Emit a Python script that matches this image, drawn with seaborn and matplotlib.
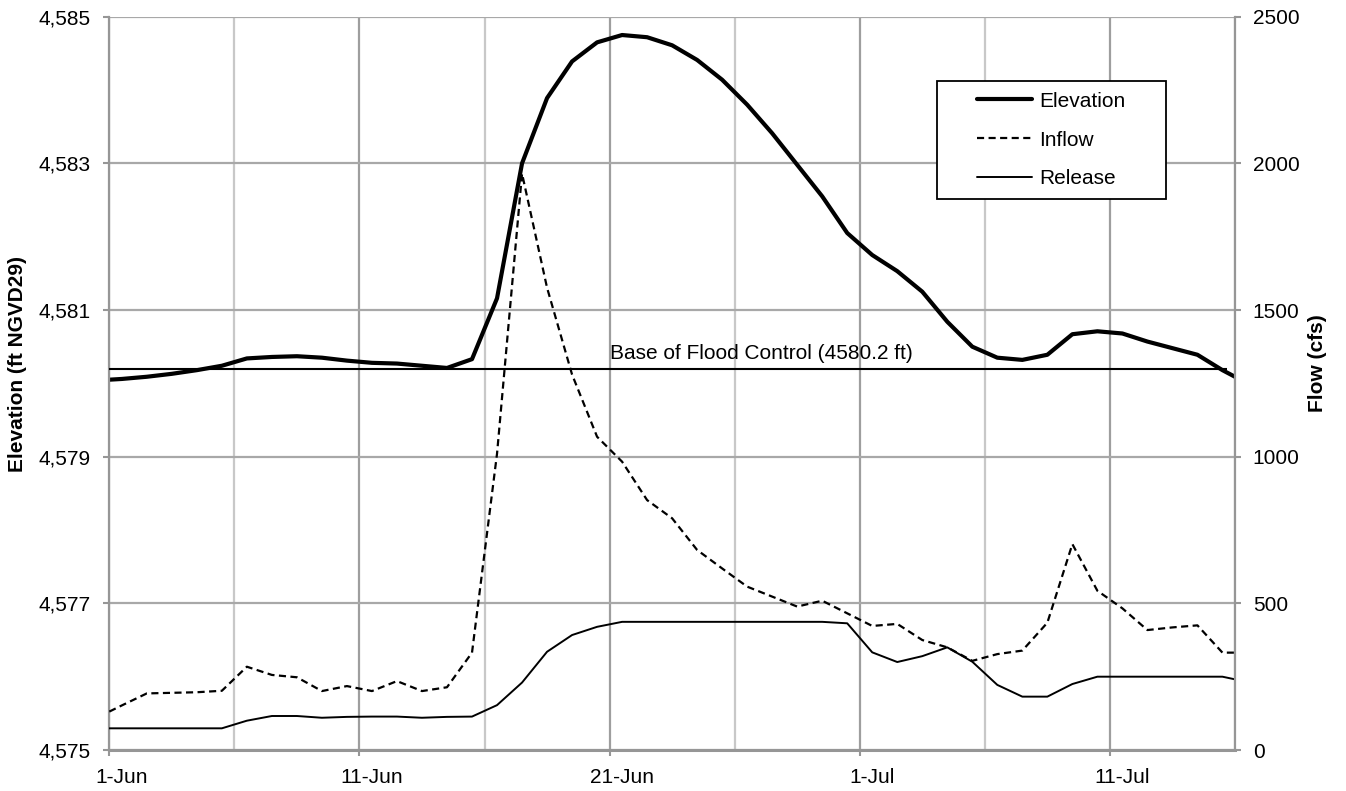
import numpy as np
import pandas as pd
import matplotlib
matplotlib.use("Agg")
import matplotlib.pyplot as plt
from matplotlib.patches import Rectangle
from matplotlib.ticker import MultipleLocator
import seaborn as sns

# Days since 1-Jun: daily values sit at mid-day, plus the record's two edges
day = np.concatenate([[0.0], np.arange(0.5, 45.0, 1.0), [45.0]])

# Reservoir elevation (ft NGVD29)
elevation = [4580.05, 4580.06, 4580.09, 4580.13, 4580.18, 4580.24, 4580.34, 4580.36,
             4580.37, 4580.35, 4580.31, 4580.28, 4580.27, 4580.24, 4580.21, 4580.33,
             4581.16, 4583.00, 4583.89, 4584.39, 4584.65, 4584.75, 4584.72, 4584.61,
             4584.41, 4584.14, 4583.80, 4583.41, 4582.98, 4582.55, 4582.05, 4581.75,
             4581.53, 4581.25, 4580.84, 4580.50, 4580.35, 4580.32, 4580.39, 4580.67,
             4580.71, 4580.68, 4580.57, 4580.48, 4580.39, 4580.18, 4580.09]

# Inflow (cfs)
inflow = [131, 152, 193, 195, 197, 202, 284, 256, 248, 201, 218, 201, 235, 201, 214, 332,
          1010, 1965, 1576, 1280, 1068, 983, 852, 790, 682, 619, 557, 523, 489, 509, 466,
          423, 430, 375, 350, 304, 327, 339, 434, 702, 543, 483, 409, 418, 425, 332, 332]

# Release (cfs)
release = [74, 74, 74, 74, 74, 74, 100, 116, 116, 110, 113, 114, 114, 110, 113, 114,
           153, 230, 335, 392, 420, 437, 437, 437, 437, 437, 437, 437, 437, 437, 432,
           333, 300, 320, 350, 301, 222, 182, 182, 225, 250, 250, 250, 250, 250, 250, 241]

flood_base = 4580.2
flood_end = 44.7
flood_label = "Base of Flood Control (4580.2 ft)"
flood_label_day = 20

date_ticks = [0, 10, 20, 30, 40]
date_labels = ["1-Jun", "11-Jun", "21-Jun", "1-Jul", "11-Jul"]
elev_ticks = [4575, 4577, 4579, 4581, 4583, 4585]
elev_labels = ["4,575", "4,577", "4,579", "4,581", "4,583", "4,585"]
flow_ticks = [0, 500, 1000, 1500, 2000, 2500]
flow_labels = ["0", "500", "1000", "1500", "2000", "2500"]

sns.set_style("white")
plt.rcParams["font.family"] = ["Liberation Sans", "DejaVu Sans"]
plt.rcParams["font.size"] = 15
plt.rcParams["text.color"] = "black"
plt.rcParams["axes.labelcolor"] = "black"
plt.rcParams["xtick.color"] = "black"
plt.rcParams["ytick.color"] = "black"

AXIS_GREY = "#969696"

df = pd.DataFrame({"day": day, "Elevation": elevation,
                   "Inflow": inflow, "Release": release})

fig = plt.figure(figsize=(13.46, 7.91), dpi=100)
ax = fig.add_axes([0.0812, 0.0518, 0.8363, 0.9271])
ax2 = ax.twinx()

sns.lineplot(data=df, x="day", y="Elevation", ax=ax, color="black",
             linewidth=3.0, sort=False, label="Elevation")
sns.lineplot(data=df, x="day", y="Inflow", ax=ax2, color="black",
             linewidth=1.6, linestyle=(0, (3.2, 2.0)), sort=False, label="Inflow")
sns.lineplot(data=df, x="day", y="Release", ax=ax2, color="black",
             linewidth=1.4, sort=False, label="Release")
for a in (ax, ax2):
    if a.get_legend() is not None:
        a.get_legend().remove()

# Flood-control reference level
ax.hlines(flood_base, day[0], flood_end, color="black", linewidth=1.5, zorder=3)
ax.annotate(flood_label, xy=(flood_label_day, flood_base), xytext=(0, 4),
            textcoords="offset points", ha="left", va="bottom", fontsize=15)

# Limits and ticks
ax.set_xlim(0, 45)
ax.set_ylim(elev_ticks[0], elev_ticks[-1])
ax2.set_ylim(flow_ticks[0], flow_ticks[-1])

ax.set_xticks(date_ticks, labels=[""] * len(date_ticks))
ax.xaxis.set_minor_locator(MultipleLocator(5))
ax.set_yticks(elev_ticks, labels=elev_labels)
ax2.set_yticks(flow_ticks, labels=flow_labels)

ax.tick_params(axis="x", which="major", direction="out", length=4.3, width=1.5,
               color=AXIS_GREY, bottom=True)
ax.tick_params(axis="x", which="minor", length=0)
ax.tick_params(axis="y", direction="out", length=4.3, width=1.5, color=AXIS_GREY,
               labelcolor="black", pad=9.5, labelsize=15, left=True)
ax2.tick_params(axis="y", direction="out", length=4.3, width=1.5, color=AXIS_GREY,
                labelcolor="black", pad=8.6, labelsize=15, right=True)

# Date labels centred on the day rather than on the tick
sec = ax.secondary_xaxis("bottom")
sec.set_xticks([t + 0.5 for t in date_ticks], labels=date_labels)
sec.tick_params(length=0, pad=13, labelsize=15, labelcolor="black")
sec.spines["bottom"].set_visible(False)

# Grid
ax.grid(which="major", axis="x", color="#9e9e9e", linewidth=1.6)
ax.grid(which="minor", axis="x", color="#c8c8c8", linewidth=1.6)
ax.grid(which="major", axis="y", color="#a8a8a8", linewidth=1.6)
ax.set_axisbelow(True)

# Spines
for a in (ax, ax2):
    a.spines["top"].set_visible(False)
ax.spines["right"].set_visible(False)
ax.spines["left"].set_color(AXIS_GREY)
ax.spines["left"].set_linewidth(1.6)
ax.spines["bottom"].set_color(AXIS_GREY)
ax.spines["bottom"].set_linewidth(2.2)
ax2.spines["left"].set_visible(False)
ax2.spines["bottom"].set_visible(False)
ax2.spines["right"].set_color(AXIS_GREY)
ax2.spines["right"].set_linewidth(1.6)

ax.set_xlabel("")
ax.set_ylabel("Elevation (ft NGVD29)", fontsize=15, fontweight="bold")
ax2.set_ylabel("Flow (cfs)", fontsize=15, fontweight="bold")
ax.yaxis.set_label_coords(-0.0735, 0.527)
ax2.yaxis.set_label_coords(1.0645, 0.527)

# Legend in a white box
box = Rectangle((0.7353, 0.7514), 0.2034, 0.1609, transform=ax2.transAxes,
                facecolor="white", edgecolor="black", linewidth=1.3, zorder=4)
ax2.add_patch(box)
h1, l1 = ax.get_legend_handles_labels()
h2, l2 = ax2.get_legend_handles_labels()
leg = ax2.legend(h1 + h2, l1 + l2, loc="center",
                 bbox_to_anchor=(0.7353 + 0.2034 / 2, 0.7514 + 0.1609 / 2),
                 bbox_transform=ax2.transAxes, frameon=False, fontsize=15,
                 handlelength=2.65, handletextpad=0.35, labelspacing=0.95,
                 borderpad=0)
leg.set_zorder(5)

fig.savefig("out.png", dpi=100)
